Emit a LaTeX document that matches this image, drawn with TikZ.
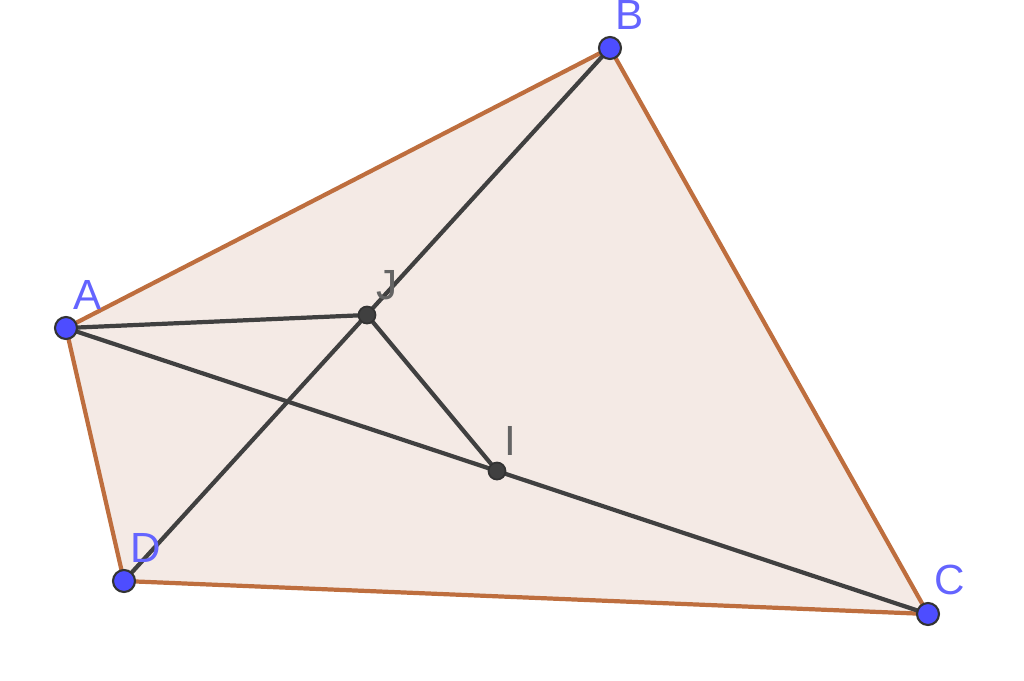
\documentclass[tikz,border=0pt]{standalone}
\usepackage{fontspec}
\setmainfont{Liberation Sans}
\definecolor{edgebrown}{RGB}{190,110,62}
\definecolor{facefill}{RGB}{244,234,229}
\definecolor{ptblue}{RGB}{77,77,255}
\definecolor{lblblue}{RGB}{100,100,255}
\definecolor{segdark}{RGB}{64,64,64}
\definecolor{lblgrey}{RGB}{100,100,100}
\tikzset{
  freept/.style={circle,fill=ptblue,draw=black!80,line width=0.6pt,inner sep=0pt,minimum size=0.22cm},
  midpt/.style={circle,fill=segdark,draw=black!80,line width=0.5pt,inner sep=0pt,minimum size=0.17cm},
  ptlabel/.style={font=\fontsize{12}{14}\selectfont,text=lblblue},
  midlabel/.style={font=\fontsize{12}{14}\selectfont,text=lblgrey}
}
\begin{document}
\begin{tikzpicture}
		\useasboundingbox (0,0) rectangle (10.24,-6.80);
		
		% Vertices
		\coordinate (A) at (0.66,-3.28);
		\coordinate (B) at (6.10,-0.48);
		\coordinate (C) at (9.28,-6.14);
		\coordinate (D) at (1.24,-5.81);
		\coordinate (J) at (3.67,-3.15);
		\coordinate (I) at (4.97,-4.71);
		
		% Quadrilateral
		\fill[facefill] (A) -- (B) -- (C) -- (D) -- cycle;
		\draw[edgebrown,line width=1.2pt,line join=round] (A) -- (B) -- (C) -- (D) -- cycle;
		
		% Diagonals and midpoints
		\draw[segdark,line width=1.2pt] (B) -- (D);
		\draw[segdark,line width=1.2pt] (A) -- (C);
		\draw[segdark,line width=1.2pt] (A) -- (J) -- (I);
		
		% Points
		\node[midpt] (j) at (J) {};
		\node[midpt] (i) at (I) {};
		\node[freept] (a) at (A) {};
		\node[freept] (b) at (B) {};
		\node[freept] (c) at (C) {};
		\node[freept] (d) at (D) {};
		
		% Labels
		\node[ptlabel] (la) at (0.88,-2.95) {A};
		\node[ptlabel] (lb) at (6.30,-0.15) {B};
		\node[ptlabel] (lc) at (9.50,-5.80) {C};
		\node[ptlabel] (ld) at (1.46,-5.48) {D};
		\node[midlabel] (lj) at (3.87,-2.85) {J};
		\node[midlabel] (li) at (5.10,-4.41) {I};
		
		\end{tikzpicture}
\end{document}
